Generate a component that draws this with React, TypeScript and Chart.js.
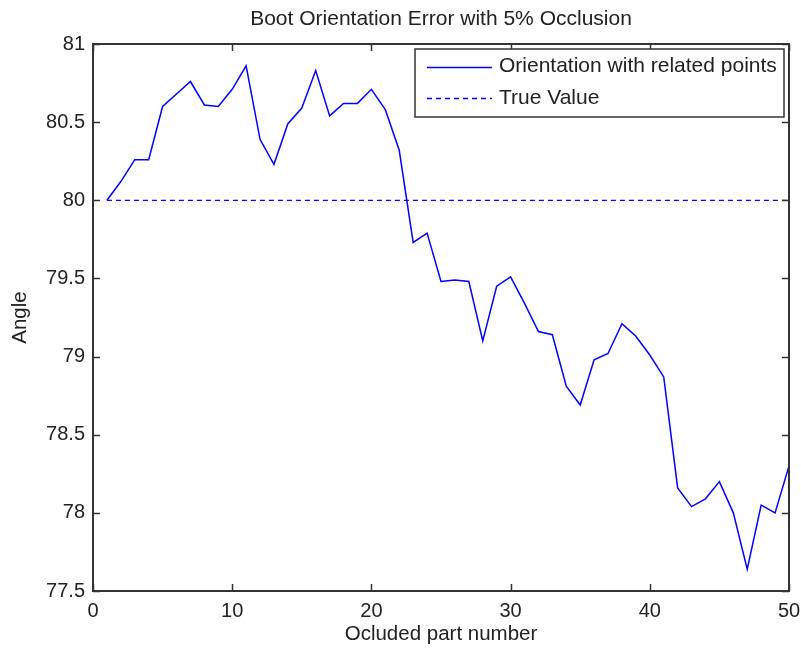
import React, { useEffect, useRef } from "react";
import { Chart, registerables } from "chart.js";

Chart.register(...registerables);

// Part index that was occluded
const partNumbers = [
  1, 2, 3, 4, 5, 6, 7, 8, 9, 10,
  11, 12, 13, 14, 15, 16, 17, 18, 19, 20,
  21, 22, 23, 24, 25, 26, 27, 28, 29, 30,
  31, 32, 33, 34, 35, 36, 37, 38, 39, 40,
  41, 42, 43, 44, 45, 46, 47, 48, 49, 50,
];

// Estimated orientation (degrees) with related points
const orientation = [
  80.0, 80.12, 80.26, 80.26, 80.6, 80.68, 80.76, 80.61, 80.6, 80.71,
  80.86, 80.39, 80.23, 80.49, 80.59, 80.83, 80.54, 80.62, 80.62, 80.71,
  80.58, 80.32, 79.73, 79.79, 79.48, 79.49, 79.48, 79.1, 79.45, 79.51,
  79.34, 79.16, 79.14, 78.81, 78.69, 78.98, 79.02, 79.21, 79.13, 79.01,
  78.87, 78.16, 78.04, 78.09, 78.2, 78.0, 77.64, 78.05, 78.0, 78.3,
];

const trueValue = 80;
const trueRange = [1, 50];

const xTicks = [0, 10, 20, 30, 40, 50];
const yTicks = [77.5, 78, 78.5, 79, 79.5, 80, 80.5, 81];

const seriesLabels = ["Orientation with related points", "True Value"];
const titleText = "Boot Orientation Error with 5% Occlusion";
const xLabel = "Ocluded part number";
const yLabel = "Angle";

const FONT = "'Liberation Sans', Arial, Helvetica, sans-serif";
const TEXT = "#222222";
const AXIS = "#333333";

// Box around the axes, inward ticks on all four sides, and the legend
const framePlugin = {
  id: "matlabFrame",
  afterDraw(chart: any) {
    const { ctx, chartArea: a, scales } = chart;
    const xs = scales.x;
    const ys = scales.y;
    const len = 7;
    ctx.save();
    ctx.strokeStyle = AXIS;
    ctx.lineWidth = 1.5;
    ctx.beginPath();
    for (const v of xTicks) {
      const px = Math.round(xs.getPixelForValue(v)) + 0.5;
      ctx.moveTo(px, a.bottom);
      ctx.lineTo(px, a.bottom - len);
      ctx.moveTo(px, a.top);
      ctx.lineTo(px, a.top + len);
    }
    for (const v of yTicks) {
      const py = Math.round(ys.getPixelForValue(v)) + 0.5;
      ctx.moveTo(a.left, py);
      ctx.lineTo(a.left + len, py);
      ctx.moveTo(a.right, py);
      ctx.lineTo(a.right - len, py);
    }
    ctx.stroke();

    ctx.lineWidth = 2;
    ctx.strokeRect(a.left, a.top, a.right - a.left, a.bottom - a.top);

    // legend box in the upper right of the axes
    const boxR = a.right - 5;
    const boxL = 415;
    const boxT = a.top + 5;
    const rowH = 31.5;
    const boxB = boxT + 68;
    ctx.fillStyle = "#ffffff";
    ctx.fillRect(boxL, boxT, boxR - boxL, boxB - boxT);
    ctx.lineWidth = 1.5;
    ctx.strokeStyle = AXIS;
    ctx.strokeRect(boxL, boxT, boxR - boxL, boxB - boxT);

    ctx.font = `21px ${FONT}`;
    ctx.textBaseline = "middle";
    ctx.textAlign = "left";
    chart.data.datasets.forEach((ds: any, i: number) => {
      const cy = boxT + 17.5 + i * rowH;
      ctx.strokeStyle = ds.borderColor;
      ctx.lineWidth = ds.borderWidth;
      ctx.setLineDash(ds.borderDash || []);
      ctx.beginPath();
      ctx.moveTo(boxL + 12, Math.round(cy) + 0.5);
      ctx.lineTo(boxL + 77, Math.round(cy) + 0.5);
      ctx.stroke();
      ctx.setLineDash([]);
      ctx.fillStyle = TEXT;
      ctx.fillText(ds.label, boxL + 84, cy);
    });
    ctx.restore();
  },
};

export default function App() {
  const canvasRef = useRef<HTMLCanvasElement | null>(null);

  useEffect(() => {
    const canvas = canvasRef.current;
    if (!canvas) return;

    const chart = new Chart(canvas, {
      type: "line",
      data: {
        datasets: [
          {
            label: seriesLabels[0],
            data: partNumbers.map((p, i) => ({ x: p, y: orientation[i] })),
            borderColor: "#0000ff",
            borderWidth: 1.5,
            pointRadius: 0,
            tension: 0,
            fill: false,
          },
          {
            label: seriesLabels[1],
            data: trueRange.map((p) => ({ x: p, y: trueValue })),
            borderColor: "#0000ff",
            borderWidth: 1.3,
            borderDash: [5, 4],
            pointRadius: 0,
            tension: 0,
            fill: false,
          },
        ],
      },
      options: {
        animation: false,
        responsive: false,
        devicePixelRatio: 1,
        layout: { padding: { left: 0, right: 12, top: 0, bottom: 0 } },
        plugins: {
          legend: { display: false },
          tooltip: { enabled: false },
          title: {
            display: true,
            text: titleText,
            fullSize: false,
            color: TEXT,
            font: { family: FONT, size: 21, weight: "normal", lineHeight: 1.2 },
            padding: { top: 7, bottom: 11.8 },
          },
        },
        scales: {
          x: {
            type: "linear",
            min: 0,
            max: 50,
            grid: { display: false, drawTicks: false },
            border: { display: false },
            afterBuildTicks: (s: any) => {
              s.ticks = xTicks.map((v) => ({ value: v }));
            },
            afterFit: (s: any) => {
              s.height = 62;
              s.paddingLeft = 0;
              s.paddingRight = 0;
            },
            ticks: {
              color: TEXT,
              padding: 8,
              maxRotation: 0,
              autoSkip: false,
              font: { family: FONT, size: 20 },
            },
            title: {
              display: true,
              text: xLabel,
              color: TEXT,
              font: { family: FONT, size: 20.5, lineHeight: 1.2 },
              padding: { top: 0, bottom: 6 },
            },
          },
          y: {
            type: "linear",
            min: 77.5,
            max: 81,
            grid: { display: false, drawTicks: false },
            border: { display: false },
            afterBuildTicks: (s: any) => {
              s.ticks = yTicks.map((v) => ({ value: v }));
            },
            afterFit: (s: any) => {
              s.width = 93;
              s.paddingTop = 0;
              s.paddingBottom = 0;
            },
            ticks: {
              color: TEXT,
              padding: 8,
              autoSkip: false,
              font: { family: FONT, size: 20 },
              callback: (v: any) => String(v),
            },
            title: {
              display: true,
              text: yLabel,
              color: TEXT,
              font: { family: FONT, size: 20.5, lineHeight: 1.2 },
              padding: { top: 8, bottom: 0 },
            },
          },
        },
      },
      plugins: [framePlugin],
    } as any);

    return () => chart.destroy();
  }, []);

  return (
    <div
      style={{
        position: "absolute",
        left: 0,
        top: 0,
        width: 801,
        height: 653,
        background: "#ffffff",
      }}
    >
      <canvas ref={canvasRef} width={801} height={653} style={{ display: "block" }} />
    </div>
  );
}
